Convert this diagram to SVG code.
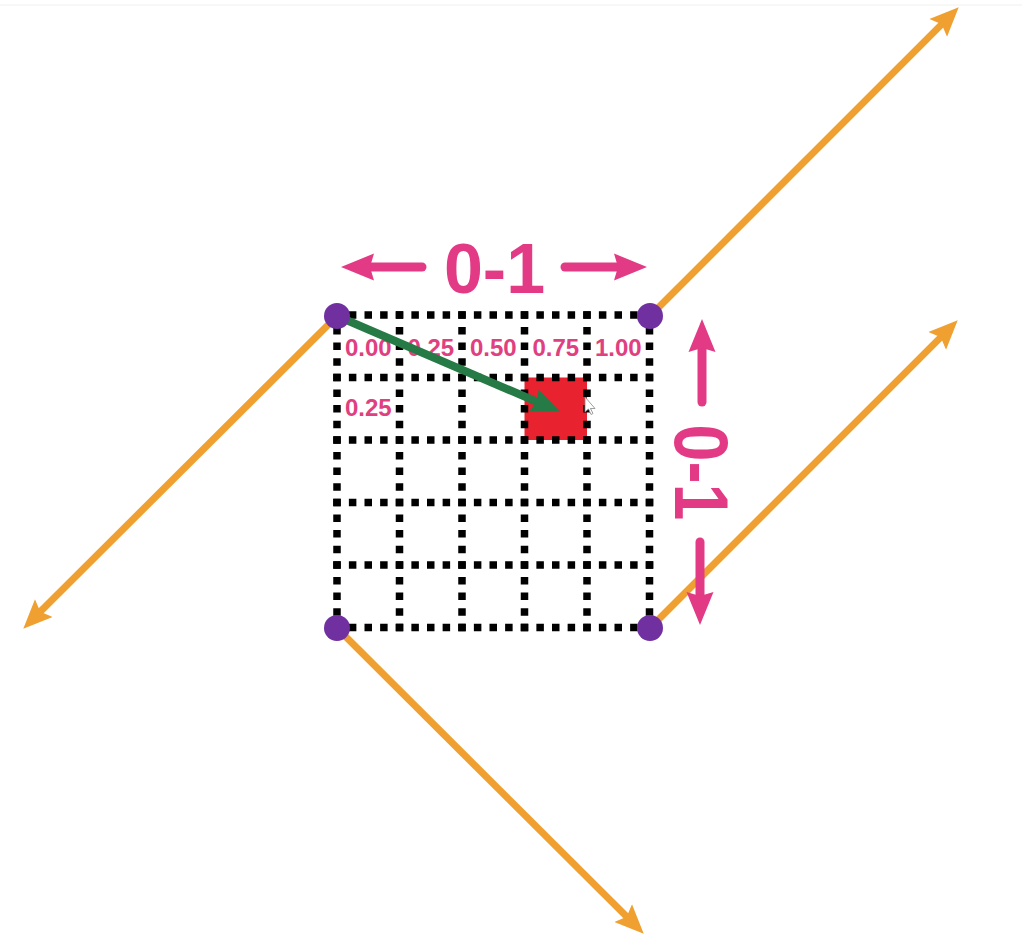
<svg xmlns="http://www.w3.org/2000/svg" width="1022" height="937" viewBox="0 0 1022 937">
  <style>
    .orange { stroke: #F0A030; stroke-width: 7; fill: none; }
    .grid { stroke: #000; stroke-width: 7.5; stroke-dasharray: 7.5 8.125; fill: none; }
    .pinkline { stroke: #E33A85; stroke-width: 9; stroke-linecap: round; fill: none; }
    .lbl { font-family: "Liberation Sans", Arial, sans-serif; font-weight: bold; font-size: 24px; fill: #E0407F; }
    .big { font-family: "Liberation Sans", Arial, sans-serif; font-weight: bold; fill: #E33A85; }
    .corner { fill: #7030A0; }
  </style>
  <defs>
    <marker id="ahOrange" markerUnits="userSpaceOnUse" markerWidth="32" markerHeight="28" viewBox="0 -14 32 28" refX="14" refY="0" orient="auto">
      <path d="M29,0 L0,-12.5 L5,0 L0,12.5 Z" fill="#F0A030"/>
    </marker>
    <marker id="ahGreen" markerUnits="userSpaceOnUse" markerWidth="30" markerHeight="26" viewBox="0 -13 30 26" refX="12" refY="0" orient="auto">
      <path d="M28,0 L0,-12 L3,0 L0,12 Z" fill="#267A46"/>
    </marker>
    <marker id="ahPink" markerUnits="userSpaceOnUse" markerWidth="36" markerHeight="30" viewBox="0 -15 36 30" refX="14" refY="0" orient="auto">
      <path d="M33,0 L0,-13.5 L4,0 L0,13.5 Z" fill="#E33A85"/>
    </marker>
  </defs>
  <rect width="1022" height="937" fill="#ffffff"/>
  <line x1="0" y1="5" x2="1022" y2="5" stroke="#f0f0f0" stroke-width="1"/>

  <g id="connectors">
    <line class="orange" x1="650" y1="316" x2="948.1" y2="17.9" marker-end="url(#ahOrange)"/>
    <line class="orange" x1="650" y1="628" x2="947.1" y2="330.9" marker-end="url(#ahOrange)"/>
    <line class="orange" x1="337" y1="316" x2="33.9" y2="618.1" marker-end="url(#ahOrange)"/>
    <line class="orange" x1="337" y1="628" x2="633.1" y2="923.1" marker-end="url(#ahOrange)"/>
  </g>

  <g id="highlight-cell">
    <rect x="524.5" y="377.5" width="62.5" height="62.5" fill="#E8222E"/>
  </g>

  <g id="grid">
    <line class="grid" x1="333.25" y1="315" x2="653.25" y2="315"/>
    <line class="grid" x1="333.25" y1="377.5" x2="653.25" y2="377.5"/>
    <line class="grid" x1="333.25" y1="440" x2="653.25" y2="440"/>
    <line class="grid" x1="333.25" y1="502.5" x2="653.25" y2="502.5"/>
    <line class="grid" x1="333.25" y1="565" x2="653.25" y2="565"/>
    <line class="grid" x1="333.25" y1="627.5" x2="653.25" y2="627.5"/>
    <line class="grid" x1="337" y1="311.25" x2="337" y2="631.25"/>
    <line class="grid" x1="399.5" y1="311.25" x2="399.5" y2="631.25"/>
    <line class="grid" x1="462" y1="311.25" x2="462" y2="631.25"/>
    <line class="grid" x1="524.5" y1="311.25" x2="524.5" y2="631.25"/>
    <line class="grid" x1="587" y1="311.25" x2="587" y2="631.25"/>
    <line class="grid" x1="649.5" y1="311.25" x2="649.5" y2="631.25"/>
  </g>

  <g id="labels">
    <text class="lbl" x="345" y="356">0.00</text>
    <text class="lbl" x="407.5" y="356">0.25</text>
    <text class="lbl" x="470" y="356">0.50</text>
    <text class="lbl" x="532.5" y="356">0.75</text>
    <text class="lbl" x="595" y="356">1.00</text>
    <text class="lbl" x="345" y="416">0.25</text>
  </g>

  <g id="vector">
    <line x1="337" y1="316" x2="545" y2="405.3" stroke="#267A46" stroke-width="8" marker-end="url(#ahGreen)"/>
  </g>

  <g id="corners">
    <circle class="corner" cx="337" cy="316" r="13"/>
    <circle class="corner" cx="650" cy="316" r="13"/>
    <circle class="corner" cx="337" cy="628" r="13"/>
    <circle class="corner" cx="650" cy="628" r="13"/>
  </g>

  <g id="range-horizontal">
    <line class="pinkline" x1="422" y1="267" x2="360" y2="267" marker-end="url(#ahPink)"/>
    <line class="pinkline" x1="565" y1="267" x2="628" y2="267" marker-end="url(#ahPink)"/>
    <text class="big" x="494.5" y="293" font-size="70" text-anchor="middle">0-1</text>
  </g>

  <g id="range-vertical">
    <line class="pinkline" x1="702" y1="402" x2="702" y2="338" marker-end="url(#ahPink)"/>
    <line class="pinkline" x1="700" y1="542" x2="700" y2="606" marker-end="url(#ahPink)"/>
    <text class="big" transform="translate(675,472.5) rotate(90)" x="0" y="0" font-size="76" text-anchor="middle" textLength="96" lengthAdjust="spacingAndGlyphs">0-1</text>
  </g>

  <g id="cursor">
    <path d="M585,397 L585,412 L588.5,409 L591,414.5 L593,413.5 L590.5,408.5 L595,408.5 Z" fill="#ffffff" stroke="#888888" stroke-width="0.8"/>
  </g>
</svg>
